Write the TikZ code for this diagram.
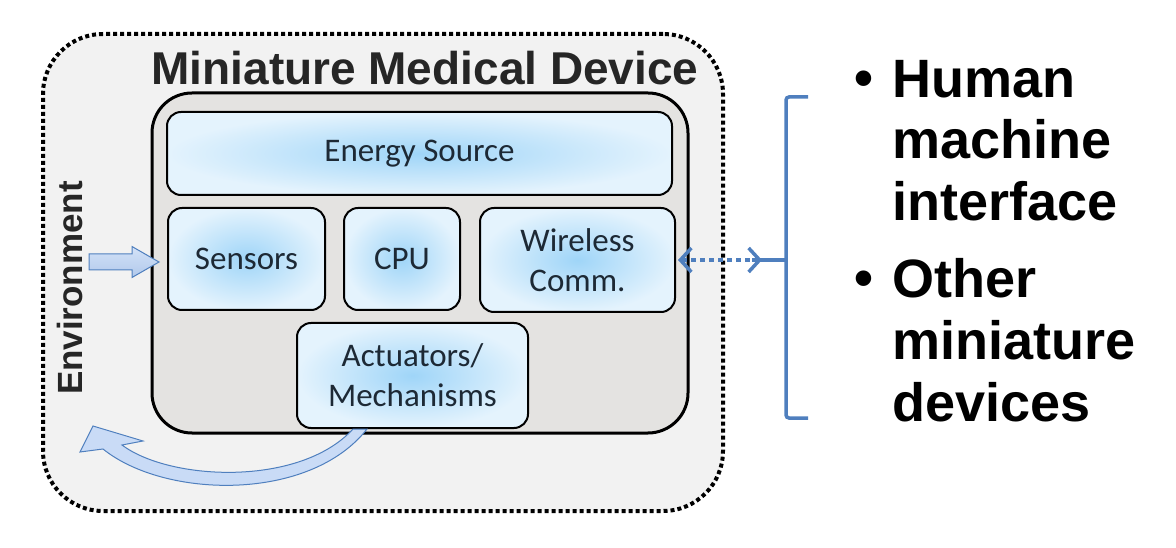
\documentclass[tikz,border=0pt]{standalone}
\usepackage{fontspec}
\setmainfont{Liberation Sans}
\newfontfamily\boxfont{Carlito}
\usetikzlibrary{arrows.meta}
\usetikzlibrary{calc}

\definecolor{envgray}{HTML}{F2F2F2}
\definecolor{devgray}{HTML}{E4E3E1}
\definecolor{boxin}{HTML}{9FD5F8}
\definecolor{boxout}{HTML}{E4F3FD}
\definecolor{boxtext}{HTML}{1D2935}
\definecolor{linkblue}{HTML}{4F7FBE}
\definecolor{bandfill}{HTML}{C9DBF6}
\definecolor{titlegray}{HTML}{262626}

\begin{document}
\begin{tikzpicture}[x=1pt, y=1pt,
	envbox/.style={draw, line width=4pt, dash pattern=on 4pt off 3pt, fill=envgray, rounded corners=60pt},
	devbox/.style={draw, line width=3pt, fill=devgray, rounded corners=40pt},
	part/.style={draw, line width=2pt, rounded corners=14pt, inner color=boxin, outer color=boxout,
		text=boxtext, font=\boxfont\fontsize{33}{40}\selectfont, align=center},
	heading/.style={text=titlegray, font=\bfseries\fontsize{46}{50}\selectfont, inner sep=0pt},
	bigtext/.style={font=\bfseries\fontsize{54}{62}\selectfont, align=left, inner sep=0pt},
	fatarrow/.style={draw=linkblue, line width=1pt, top color=bandfill!80, bottom color=bandfill!80!linkblue},
	band/.style={draw=linkblue, line width=1pt, fill=bandfill},
	linkline/.style={draw=linkblue, line width=3.5pt},
	dotlink/.style={draw=linkblue, line width=3.5pt, dash pattern=on 5pt off 4pt,
		{Straight Barb[length=11pt, width=24pt, line width=3.5pt]}-{Straight Barb[length=11pt, width=24pt, line width=3.5pt]}}]
	\useasboundingbox (0,0) rectangle (1176,547);
	
	\node[envbox, minimum width=680, minimum height=477] (env) at (383,274.5) {};
	\node[devbox, minimum width=536, minimum height=340] (dev) at (420,284) {};
	
	\node[heading, anchor=base] (ttl) at (425,462) {Miniature Medical Device};
	\node[heading, font=\bfseries\fontsize{35}{40}\selectfont, rotate=90, anchor=base] (envtxt) at (82,259) {Environment};
	
	\node[part, minimum width=505, minimum height=83] (nrg) at (419.5,393.5) {Energy Source};
	\node[part, minimum width=157, minimum height=102] (sen) at (246.5,288) {Sensors};
	\node[part, minimum width=116, minimum height=102] (cpu) at (402,288) {CPU};
	\node[part, minimum width=195, minimum height=104] (wir) at (577.5,287) {Wireless\\Comm.};
	\node[part, minimum width=231, minimum height=105] (act) at (412.5,171.5) {Actuators/\\Mechanisms};
	
	% input from environment
	\draw[fatarrow] ([xshift=-8pt, yshift=-3pt]sen.west) -- ++(-27,15.5) -- ++(0,-7.5) -- ++(-43,0)
		-- ++(0,-16) -- ++(43,0) -- ++(0,-7.5) -- cycle;
	
	% output back to environment
	\coordinate (bandin) at ($(act.south)+(-59.5,0)$);
	\coordinate (bandout) at ($(act.south)+(-45.5,0)$);
	\draw[band] (80,95) -- (93,121) -- (143,106) -- (122,102) .. controls (170,66) and (300,60) .. (bandin)
		-- (bandout) .. controls (310,45) and (165,48) .. (103,98) -- cycle;
	
	% link to the outside
	\coordinate (brk) at (786,287);
	\draw[linkline, rounded corners=3pt] (808,450) -- (786,450) -- (786,129) -- (808,129);
	\draw[linkline] ([xshift=-34pt]brk) -- (brk);
	\draw[dotlink] ([xshift=2pt]wir.east) -- ([xshift=-24pt]brk);
	
	\node[bigtext, anchor=base west] (b1) at (854,450) {\textbullet};
	\node[bigtext, anchor=base west] (hmi) at (892,326) {Human\\machine\\interface};
	\node[bigtext, anchor=base west] (b2) at (854,250) {\textbullet};
	\node[bigtext, anchor=base west] (oth) at (892,126) {Other\\miniature\\devices};
\end{tikzpicture}
\end{document}
